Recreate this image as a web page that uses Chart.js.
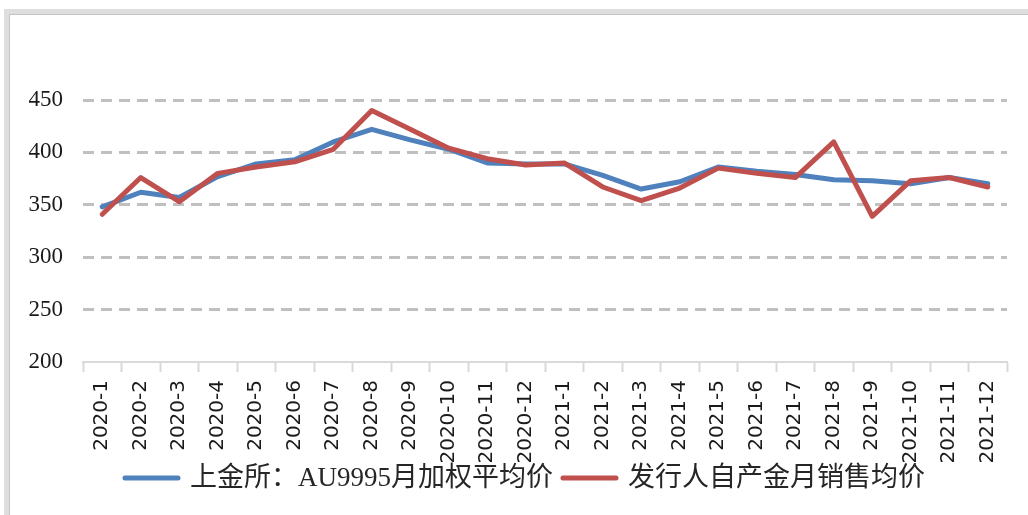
<!DOCTYPE html>
<html>
<head>
<meta charset="utf-8">
<script src="https://cdn.jsdelivr.net/npm/chart.js@4/dist/chart.umd.min.js"></script>
<style>
  html, body { margin: 0; padding: 0; background: #fff; }
  canvas { display: block; }
</style>
</head>
<body>
<canvas id="goldChart" width="1028" height="515"></canvas>
<script>
const months = [
    "2020-1", "2020-2", "2020-3", "2020-4", "2020-5", "2020-6",
    "2020-7", "2020-8", "2020-9", "2020-10", "2020-11", "2020-12",
    "2021-1", "2021-2", "2021-3", "2021-4", "2021-5", "2021-6",
    "2021-7", "2021-8", "2021-9", "2021-10", "2021-11", "2021-12"
];

// 上金所 AU9995 monthly weighted average
const sgePrice = [348, 362, 357, 377, 389, 393, 410, 422, 412, 403, 390, 389,
                  389, 378, 365, 372, 386, 382, 379, 374, 373, 370, 376, 370];

// issuer's own gold monthly sales average
const issuerPrice = [341, 376, 353, 380, 386, 391, 403, 440, 422, 404, 394, 388,
                     390, 367, 354, 366, 385, 380, 376, 410, 339, 373, 376, 367];

const yTicks = [200, 250, 300, 350, 400, 450];

const BLUE = "#4f81bd";
const RED = "#c0504d";
const SERIF = "'Liberation Serif', 'Times New Roman', serif";

// ---------- frame around the whole picture ----------
const framePlugin = {
    id: "frame",
    beforeDraw(chart) {
        const ctx = chart.ctx;
        ctx.save();
        ctx.fillStyle = "#fff";
        ctx.fillRect(0, 0, chart.width, chart.height);
        ctx.strokeStyle = "#dedede";
        ctx.lineWidth = 6;
        ctx.strokeRect(7, 12, chart.width + 20, chart.height + 20);
        ctx.strokeStyle = "#c4c4c4";
        ctx.lineWidth = 1;
        ctx.strokeRect(9.5, 14.5, chart.width + 20, chart.height + 20);
        ctx.restore();
    }
};

// ---------- legend drawn under the axis labels ----------
const legendPlugin = {
    id: "lineLegend",
    afterDraw(chart) {
        const ctx = chart.ctx;
        const items = chart.data.datasets;
        const lineLen = 57, gapLine = 10, gapItem = 8;
        const y = 478;
        ctx.save();
        ctx.font = "27px " + SERIF + ", 'Noto Sans CJK SC'";
        ctx.textBaseline = "middle";
        let total = 0;
        items.forEach((ds, i) => {
            total += lineLen + gapLine + ctx.measureText(ds.label).width;
            if (i < items.length - 1) total += gapItem;
        });
        let x = 524 - total / 2;
        items.forEach(ds => {
            ctx.strokeStyle = ds.borderColor;
            ctx.lineWidth = 5;
            ctx.lineCap = "round";
            ctx.beginPath();
            ctx.moveTo(x + 2, y);
            ctx.lineTo(x + lineLen - 2, y);
            ctx.stroke();
            x += lineLen + gapLine;
            ctx.fillStyle = "#262626";
            ctx.fillText(ds.label, x, y + 1);
            x += ctx.measureText(ds.label).width + gapItem;
        });
        ctx.restore();
    }
};

const chart = new Chart(document.getElementById("goldChart"), {
    type: "line",
    data: {
        labels: months,
        datasets: [
            {
                label: "上金所：AU9995月加权平均价",
                data: sgePrice,
                borderColor: BLUE,
                borderWidth: 5,
                pointRadius: 0,
                tension: 0,
                order: 1
            },
            {
                label: "发行人自产金月销售均价",
                data: issuerPrice,
                borderColor: RED,
                borderWidth: 5,
                pointRadius: 0,
                tension: 0,
                order: 0
            }
        ]
    },
    options: {
        responsive: false,
        animation: false,
        devicePixelRatio: 1,
        layout: { padding: { top: 100, right: 21, bottom: 0, left: 0 } },
        plugins: {
            legend: { display: false },
            tooltip: { enabled: false }
        },
        elements: { line: { borderCapStyle: "round", borderJoinStyle: "round" } },
        scales: {
            x: {
                offset: true,
                grid: {
                    offset: true,
                    drawOnChartArea: false,
                    drawTicks: true,
                    tickLength: 10,
                    tickColor: "#d9d9d9",
                    tickWidth: 2
                },
                border: { color: "#d9d9d9", width: 2 },
                ticks: {
                    autoSkip: false,
                    minRotation: 90,
                    maxRotation: 90,
                    padding: 8,
                    color: "#1a1a1a",
                    font: { family: "'DejaVu Sans', sans-serif", size: 20 }
                },
                afterFit(scale) { scale.height = 153; }
            },
            y: {
                min: 200,
                max: 450,
                afterBuildTicks(scale) {
                    scale.ticks = yTicks.map(v => ({ value: v }));
                },
                grid: {
                    drawTicks: false,
                    lineWidth: 3,
                    color: c => c.tick && c.tick.value === 200 ? "rgba(0,0,0,0)" : "#c0c0c0"
                },
                border: { display: false, dash: [11, 7] },
                ticks: {
                    padding: 20,
                    color: "#1a1a1a",
                    font: { family: SERIF, size: 23 }
                },
                afterFit(scale) { scale.width = 83; }
            }
        }
    },
    plugins: [framePlugin, legendPlugin]
});
</script>
</body>
</html>
